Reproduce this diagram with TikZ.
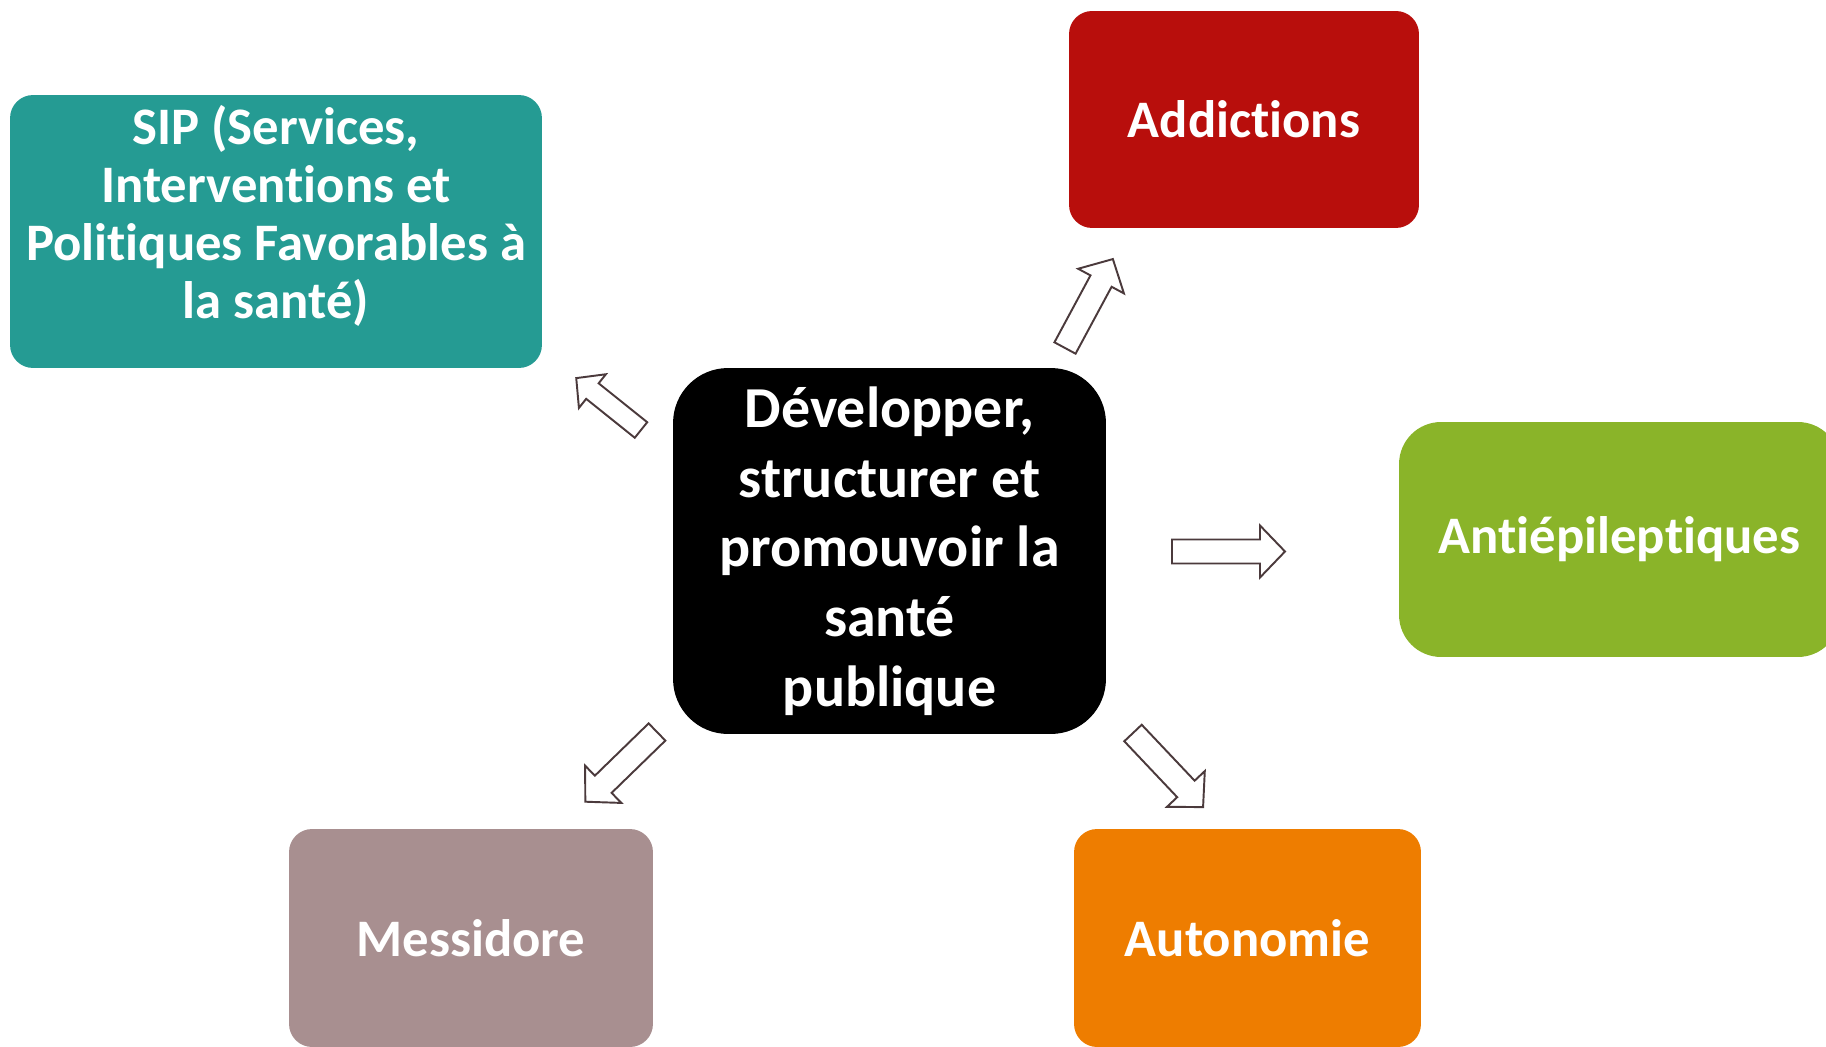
\documentclass[tikz,border=0pt]{standalone}
\usepackage{fontspec}
\setmainfont{Carlito}[Ligatures={NoCommon,NoContextual}]
\usepackage{tikz}

\definecolor{sipcol}{RGB}{37,155,147}
\definecolor{addiccol}{RGB}{184,14,12}
\definecolor{antiepcol}{RGB}{138,180,41}
\definecolor{messicol}{RGB}{168,143,144}
\definecolor{autocol}{RGB}{238,125,0}
\definecolor{flechecol}{RGB}{75,58,60}

\tikzset{
  boite/.style={rounded corners=0.46cm, inner sep=0pt, align=center, text=white,
    font=\bfseries\fontsize{30pt}{33pt}\selectfont},
  fleche/.style={draw=flechecol, line width=1.1pt, fill=white, line join=miter},
  pics/blocfleche/.style={code={
    \draw[fleche] (0,-12) -- ({#1-25},-12) -- ({#1-25},-26) -- (#1,0)
      -- ({#1-25},26) -- ({#1-25},12) -- (0,12) -- cycle;}}
}

\begin{document}
\begin{tikzpicture}[x=0.02cm,y=-0.02cm]
\useasboundingbox (0,0) rectangle (1826,1047);

% Central box
\node[boite, fill=black, rounded corners=1.1cm, minimum width=8.66cm, minimum height=7.32cm,
  font=\bfseries\fontsize{33pt}{39.7pt}\selectfont] (centre) at (889.5,551)
  {D\'evelopper,\\structurer et\\promouvoir la\\sant\'e\\publique};

% Surrounding boxes
\node[boite, fill=sipcol, minimum width=10.64cm, minimum height=5.46cm,
  label={[boite, yshift=0.32cm]center:{SIP (Services,\\Interventions et\\Politiques Favorables \`a\\la sant\'e)}}]
  (sip) at (276,231.5) {};
\node[boite, fill=addiccol, minimum width=7cm, minimum height=4.34cm] (addic) at (1244,119.5) {Addictions};
\node[boite, fill=antiepcol, rounded corners=0.84cm, minimum width=8.82cm, minimum height=4.7cm] (antiep) at (1619.5,539.5) {Anti\'epileptiques};
\node[boite, fill=messicol, minimum width=7.28cm, minimum height=4.36cm] (messi) at (471,938) {Messidore};
\node[boite, fill=autocol, minimum width=6.94cm, minimum height=4.36cm] (auto) at (1247.5,938) {Autonomie};

% Block arrows from the centre
\pic[rotate=61.7] at (1065,348) {blocfleche=101};
\pic[rotate=141.3, scale=0.83] at (641,430) {blocfleche=100};
\pic at (1172,551.5) {blocfleche=113};
\pic[rotate=-135.8] at (657,732) {blocfleche=100};
\pic[rotate=-46.6] at (1133,733) {blocfleche=102};

\end{tikzpicture}
\end{document}
